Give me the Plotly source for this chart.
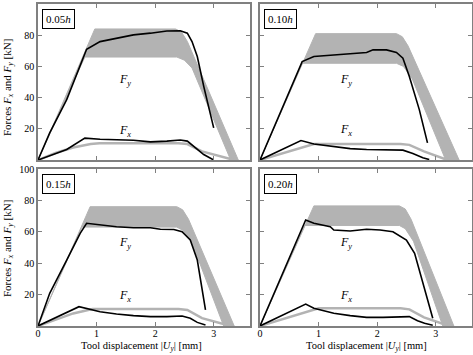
import plotly.graph_objects as go

# ---------------- data ----------------
panel_labels = ["0.05<i>h</i>", "0.10<i>h</i>", "0.15<i>h</i>", "0.20<i>h</i>"]

# simulated Fy band (upper / lower bounds)
band_up_x = [
    [0, 0.97, 2.35, 2.45, 2.55, 3.42],
    [0, 0.95, 2.33, 2.43, 2.53, 3.40],
    [0, 0.89, 2.37, 2.47, 2.57, 3.35],
    [0, 0.92, 2.38, 2.48, 2.58, 3.31],
]
band_up_y = [
    [0, 84, 84, 82, 76, 0],
    [0, 81, 81, 79, 73, 0],
    [0, 76, 76, 74, 68, 0],
    [0, 76.5, 76.5, 74.5, 68, 0],
]
band_lo_x = [
    [0, 0.80, 2.37, 2.50, 2.63, 3.29],
    [0, 0.72, 2.33, 2.45, 2.60, 3.17],
    [0, 0.75, 2.37, 2.47, 2.62, 3.17],
    [0, 0.76, 2.38, 2.48, 2.62, 3.12],
]
band_lo_y = [
    [0, 66, 66, 64, 59, 0],
    [0, 62, 62, 60, 52, 0],
    [0, 63, 63, 61, 54, 0],
    [0, 64, 64, 62, 54, 0],
]

# simulated Fx (gray line)
simfx_x = [
    [0, 0.3, 0.6, 0.9, 1.05, 2.4, 2.55, 2.8, 3.35],
    [0, 0.3, 0.6, 0.92, 2.4, 2.55, 2.8, 3.2],
    [0, 0.3, 0.6, 0.93, 2.4, 2.55, 2.8, 3.29],
    [0, 0.3, 0.6, 1.0, 2.4, 2.55, 2.8, 3.23],
]
simfx_y = [
    [0, 4.5, 8, 10.3, 10.8, 10.8, 10.2, 5.5, 0],
    [0, 3.5, 7, 10.3, 10.3, 9.7, 5.5, 0],
    [0, 4, 8, 10.8, 10.8, 10.2, 5, 0],
    [0, 3.5, 7, 11.3, 11.3, 10.6, 5.5, 0],
]

# experimental Fy (black)
expfy_x = [
    [0, 0.2, 0.49, 0.72, 0.83, 1.06, 1.34, 1.63, 1.92, 2.2, 2.43, 2.55, 2.63, 2.72, 2.83, 2.92, 3.0],
    [0, 0.72, 0.92, 1.26, 1.54, 1.82, 1.93, 2.16, 2.33, 2.44, 2.55, 2.72, 2.86],
    [0, 0.2, 0.49, 0.72, 0.83, 1.06, 1.34, 1.63, 1.92, 2.09, 2.32, 2.46, 2.6, 2.72, 2.8, 2.86],
    [0, 0.78, 0.92, 1.2, 1.26, 1.54, 1.82, 2.05, 2.27, 2.5, 2.64, 2.75, 2.86, 2.95],
]
expfy_y = [
    [0, 17.4, 38.7, 60, 71, 75.9, 78, 80.2, 81.3, 82.7, 82.9, 81.3, 75.9, 66.3, 47.2, 32.3, 20.6],
    [0, 63.1, 66.3, 67.4, 68, 68.9, 70.6, 70.6, 68.9, 65.3, 53.5, 32.3, 11],
    [0, 20.8, 42, 59, 65.4, 64.3, 63.2, 62.6, 62.6, 61.6, 61.5, 60, 54.8, 42, 25, 10.2],
    [0, 67.5, 65.4, 63.2, 61.1, 60.5, 61.6, 61.1, 60, 54.8, 46.3, 31.4, 16.6, 4.9],
]

# experimental Fx (black)
expfx_x = [
    [0, 0.49, 0.8, 1.06, 1.63, 1.92, 2.2, 2.43, 2.55, 2.66, 2.83, 3.0],
    [0, 0.7, 0.92, 1.26, 1.54, 1.82, 2.1, 2.44, 2.61, 2.78, 2.89],
    [0, 0.7, 1.06, 1.34, 1.63, 1.92, 2.2, 2.46, 2.6, 2.72, 2.86],
    [0, 0.78, 0.92, 1.26, 1.54, 1.82, 2.1, 2.38, 2.55, 2.69, 2.81, 2.95],
]
expfx_y = [
    [0, 6.7, 14, 13.3, 12.7, 11.6, 12.1, 12.8, 12.1, 8.8, 3.5, 0],
    [0, 12.5, 10.3, 8.8, 7.3, 6.7, 6.7, 6.3, 4.2, 1.4, 0.3],
    [0, 12.3, 9.1, 7.6, 6.6, 6.0, 6.0, 6.4, 4.9, 2.3, 0.6],
    [0, 14, 11.3, 8.1, 6.6, 5.5, 5.5, 6.0, 6.0, 3.4, 1.7, 0.5],
]

fy_label_pos = [(1.49, 51.4), (1.46, 51.4), (1.49, 52.7), (1.46, 52.7)]
fx_label_pos = [(1.49, 18.4), (1.46, 19.4), (1.49, 19.1), (1.46, 19.1)]

x_ticks = [0, 1, 2, 3]
y_ticks = [20, 40, 60, 80, 100]

# ---------------- layout geometry ----------------
W, H = 473, 355
ML, MR, MT, MB = 38, 1, 4, 29
PW, PH = W - ML - MR, H - MT - MB

def px_x(p):
    return (p - ML) / PW

def px_y(p):
    return (H - MB - p) / PH

x_domains = [[px_x(38), px_x(250)], [px_x(260), px_x(472)]]
y_domains = [[px_y(160), px_y(4)], [px_y(326), px_y(169)]]

FONT = "Liberation Serif"
BAND = "#b3b3b3"
FRAME = "#808080"

fig = go.Figure()
layout = dict(
    width=W, height=H,
    margin=dict(l=ML, r=MR, t=MT, b=MB),
    paper_bgcolor="white", plot_bgcolor="white",
    showlegend=False,
    font=dict(family=FONT, size=11, color="black"),
)
annotations = []

for i in range(4):
    row, col = divmod(i, 2)
    n = i + 1
    xa = "x" if n == 1 else f"x{n}"
    ya = "y" if n == 1 else f"y{n}"

    # band polygon
    bx = band_up_x[i] + band_lo_x[i][::-1]
    by = band_up_y[i] + band_lo_y[i][::-1]
    fig.add_trace(go.Scatter(x=bx, y=by, fill="toself", fillcolor=BAND,
                             line=dict(color=BAND, width=1), mode="lines",
                             xaxis=xa, yaxis=ya, hoverinfo="skip"))
    fig.add_trace(go.Scatter(x=simfx_x[i], y=simfx_y[i], mode="lines",
                             line=dict(color=BAND, width=2.5),
                             xaxis=xa, yaxis=ya))
    fig.add_trace(go.Scatter(x=expfy_x[i], y=expfy_y[i], mode="lines",
                             line=dict(color="black", width=1.6),
                             xaxis=xa, yaxis=ya))
    fig.add_trace(go.Scatter(x=expfx_x[i], y=expfx_y[i], mode="lines",
                             line=dict(color="black", width=1.6),
                             xaxis=xa, yaxis=ya))

    xkey = "xaxis" if n == 1 else f"xaxis{n}"
    ykey = "yaxis" if n == 1 else f"yaxis{n}"
    layout[xkey] = dict(
        domain=x_domains[col], anchor=ya, range=[0, 3.62],
        tickvals=x_ticks, ticks="inside", ticklen=4, tickcolor=FRAME,
        showticklabels=(row == 1), showgrid=False, zeroline=False,
        showline=True, linecolor=FRAME, linewidth=1.5, mirror="ticks",
        tickfont=dict(family=FONT, size=10), automargin=False,
        ticklabelstandoff=-3,
    )
    layout[ykey] = dict(
        domain=y_domains[row], anchor=xa, range=[0, 100],
        tickvals=y_ticks, ticks="inside", ticklen=4, tickcolor=FRAME,
        showticklabels=(col == 0), showgrid=False, zeroline=False,
        showline=True, linecolor=FRAME, linewidth=1.5, mirror="ticks",
        tickfont=dict(family=FONT, size=10), automargin=False,
    )

    annotations.append(dict(
        text=panel_labels[i], xref=f"{xa} domain", yref=f"{ya} domain",
        x=0.02, y=0.97, xanchor="left", yanchor="top", showarrow=False,
        bordercolor="black", borderwidth=1, borderpad=3, bgcolor="white",
        font=dict(family=FONT, size=11)))
    annotations.append(dict(
        text="<i>F<sub>y</sub></i>", xref=xa, yref=ya,
        x=fy_label_pos[i][0], y=fy_label_pos[i][1], showarrow=False,
        xanchor="center", yanchor="middle",
        font=dict(family=FONT, size=12)))
    annotations.append(dict(
        text="<i>F<sub>x</sub></i>", xref=xa, yref=ya,
        x=fx_label_pos[i][0], y=fx_label_pos[i][1], showarrow=False,
        xanchor="center", yanchor="middle",
        font=dict(family=FONT, size=12)))

# axis titles
for yc in [px_y(88), px_y(249)]:
    annotations.append(dict(
        text="Forces <i>F<sub>x</sub></i> and <i>F<sub>y</sub></i> [kN]",
        xref="paper", yref="paper", x=px_x(8), y=yc, textangle=-90,
        xanchor="center", yanchor="middle",
        showarrow=False, font=dict(family=FONT, size=11)))
for xc in [px_x(141), px_x(366)]:
    annotations.append(dict(
        text="Tool displacement |<i>U<sub>y</sub></i>| [mm]",
        xref="paper", yref="paper", x=xc, y=px_y(355),
        xanchor="center", yanchor="bottom",
        showarrow=False, font=dict(family=FONT, size=10.5)))

layout["annotations"] = annotations
fig.update_layout(**layout)
fig.write_html(
    "out.html",
    config={"displayModeBar": False},
    post_script="document.body.style.margin='0';document.body.style.overflow='hidden';",
)
